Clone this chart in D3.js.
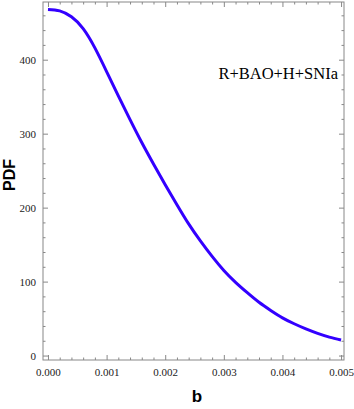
<!DOCTYPE html>
<html lang="en">
<head>
<meta charset="utf-8">
<title>PDF of b</title>
<script src="https://d3js.org/d3.v7.min.js"></script>
<style>
  body { margin: 0; background: #fff; }
  .tick text { font-family: "Liberation Serif", "DejaVu Serif", serif; font-size: 11px; fill: #222; }
  .domain { stroke: none; }
  .tick line { stroke: #888; }
</style>
</head>
<body>
<div id="chart"></div>
<script>
// values
var bVals = [0, 0.0002, 0.0004, 0.0006, 0.0008, 0.001, 0.0012, 0.0014, 0.0016, 0.0018,
             0.002, 0.0022, 0.0024, 0.0026, 0.0028, 0.003, 0.0032, 0.0034, 0.0036, 0.0038,
             0.004, 0.0042, 0.0044, 0.0046, 0.0048, 0.005]
var pdfVals = [468, 466, 458, 442, 416, 384, 351, 319, 288, 259,
               231, 204, 178, 155, 134, 115, 99, 85, 72, 61,
               51, 43, 36, 30, 25, 21]
var xTicks = [0, 0.001, 0.002, 0.003, 0.004, 0.005]
var yTicks = [0, 100, 200, 300, 400]
var label = "R+BAO+H+SNIa"

var width = 354, height = 409
var mLeft = 43, mRight = 344, mTop = 2, mBottom = 360

var svg = d3.select("#chart").append("svg")
    .attr("width", width)
    .attr("height", height)

var x = d3.scaleLinear().domain([-0.000085, 0.00505]).range([mLeft, mRight])
var y = d3.scaleLinear().domain([-6, 478]).range([mBottom, mTop])

var minorX = d3.range(0, 0.00501, 0.0002).filter(function(d){ return Math.abs(d*1000 - Math.round(d*1000)) > 1e-6 })
var minorY = d3.range(0, 478, 20).filter(function(d){ return d % 100 != 0 })

// frame
svg.append("rect")
    .attr("x", mLeft).attr("y", mTop)
    .attr("width", mRight - mLeft).attr("height", mBottom - mTop)
    .attr("fill", "none").attr("stroke", "#888").attr("stroke-width", 1)

// bottom axis
svg.append("g").attr("transform", "translate(0," + mBottom + ")")
    .call(d3.axisBottom(x).tickValues(xTicks).tickSize(-5).tickPadding(8).tickFormat(d3.format(".3f")))
svg.append("g").attr("transform", "translate(0," + mBottom + ")")
    .call(d3.axisBottom(x).tickValues(minorX).tickSize(-2.5).tickFormat(""))
// top axis
svg.append("g").attr("transform", "translate(0," + mTop + ")")
    .call(d3.axisTop(x).tickValues(xTicks).tickSize(-5).tickFormat(""))
svg.append("g").attr("transform", "translate(0," + mTop + ")")
    .call(d3.axisTop(x).tickValues(minorX).tickSize(-2.5).tickFormat(""))
// left axis
svg.append("g").attr("transform", "translate(" + mLeft + ",0)")
    .call(d3.axisLeft(y).tickValues(yTicks).tickSize(-5).tickPadding(7).tickFormat(d3.format("d")))
svg.append("g").attr("transform", "translate(" + mLeft + ",0)")
    .call(d3.axisLeft(y).tickValues(minorY).tickSize(-2.5).tickFormat(""))
// right axis
svg.append("g").attr("transform", "translate(" + mRight + ",0)")
    .call(d3.axisRight(y).tickValues(yTicks).tickSize(-5).tickFormat(""))
svg.append("g").attr("transform", "translate(" + mRight + ",0)")
    .call(d3.axisRight(y).tickValues(minorY).tickSize(-2.5).tickFormat(""))

// curve
var line = d3.line()
    .x(function(d, i){ return x(bVals[i]) })
    .y(function(d){ return y(d) })
    .curve(d3.curveNatural)

svg.append("path")
    .datum(pdfVals)
    .attr("d", line)
    .attr("fill", "none")
    .attr("stroke", "#3300ff")
    .attr("stroke-width", 3)

// labels
svg.append("text")
    .attr("x", 338).attr("y", 79)
    .attr("text-anchor", "end")
    .style("font-family", "'Liberation Serif', serif")
    .style("font-size", "16.5px")
    .text(label)

svg.append("text")
    .attr("x", 197).attr("y", 402)
    .attr("text-anchor", "middle")
    .style("font-family", "'Liberation Sans', Arial, sans-serif")
    .style("font-weight", "bold")
    .style("font-size", "17px")
    .text("b")

svg.append("text")
    .attr("transform", "translate(15,175) rotate(-90)")
    .attr("text-anchor", "middle")
    .style("font-family", "'Liberation Sans', Arial, sans-serif")
    .style("font-weight", "bold")
    .style("font-size", "16px")
    .text("PDF")
</script>
</body>
</html>
